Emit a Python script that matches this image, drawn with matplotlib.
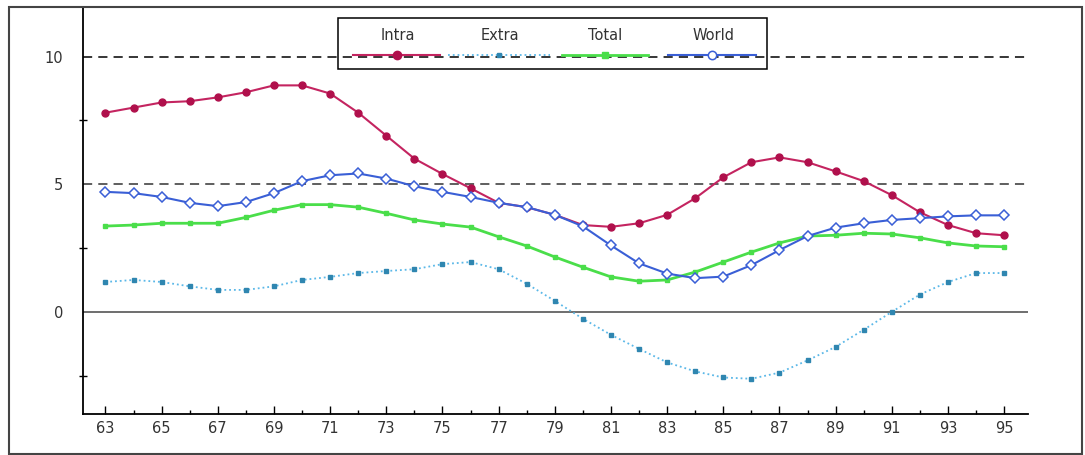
import matplotlib.pyplot as plt
from matplotlib.patches import Rectangle
from matplotlib.ticker import MultipleLocator

years = list(range(63, 96))

intra = [7.8, 8.0, 8.2, 8.25, 8.4, 8.6, 8.87, 8.87, 8.55, 7.8,
         6.9, 6.0, 5.4, 4.84, 4.27, 4.1, 3.8, 3.4, 3.33, 3.47,
         3.8, 4.45, 5.27, 5.86, 6.05, 5.86, 5.5, 5.12, 4.57, 3.9,
         3.4, 3.08, 3.0]
extra = [1.17, 1.25, 1.17, 1.0, 0.86, 0.86, 1.0, 1.25, 1.37, 1.52,
         1.6, 1.67, 1.87, 1.95, 1.67, 1.1, 0.43, -0.27, -0.9, -1.45,
         -1.98, -2.33, -2.57, -2.62, -2.38, -1.9, -1.37, -0.7, 0.0, 0.68,
         1.17, 1.52, 1.52]
total = [3.36, 3.4, 3.47, 3.47, 3.47, 3.7, 3.98, 4.2, 4.2, 4.1,
         3.86, 3.6, 3.44, 3.32, 2.94, 2.58, 2.15, 1.75, 1.37, 1.2,
         1.25, 1.56, 1.95, 2.34, 2.7, 2.97, 3.0, 3.08, 3.05, 2.9,
         2.7, 2.58, 2.55]
world = [4.7, 4.65, 4.5, 4.27, 4.14, 4.3, 4.65, 5.12, 5.35, 5.42,
         5.22, 4.92, 4.7, 4.5, 4.27, 4.1, 3.8, 3.35, 2.6, 1.9,
         1.5, 1.32, 1.38, 1.83, 2.42, 2.97, 3.3, 3.47, 3.6, 3.67,
         3.74, 3.78, 3.78]

labels = ['Intra', 'Extra', 'Total', 'World']

c_intra = '#c42460'
c_extra = '#5bb8e8'
c_total = '#4ade4a'
c_world = '#3a5fd6'

fig = plt.figure(figsize=(10.85, 4.55), dpi=100)
ax = fig.add_axes([0.0765, 0.0901, 0.871, 0.8923])

# reference lines
ax.axhline(10, color='black', lw=1.1, dashes=(6, 4))
ax.axhline(5, color='#333333', lw=1.1, dashes=(6, 4))
ax.axhline(0, color='#555555', lw=1.2)

ax.plot(years, intra, color=c_intra, lw=1.5, marker='o', ms=5,
        mfc='#b0104c', mec='#b0104c', zorder=3)
ax.plot(years, extra, color=c_extra, lw=1.3, ls=':', marker='s', ms=3.5,
        mfc='#2f86b0', mec='#2f86b0', zorder=3)
ax.plot(years, total, color=c_total, lw=2, marker='s', ms=3,
        mfc=c_total, mec=c_total, zorder=3)
ax.plot(years, world, color=c_world, lw=1.5, marker='D', ms=5,
        mfc='white', mec=c_world, mew=1.1, zorder=4)

ax.set_xlim(62.2, 95.85)
ax.set_ylim(-4, 11.9)

ax.set_xticks(years[::2])
ax.set_xticklabels([str(y) for y in years[::2]])
ax.xaxis.set_minor_locator(MultipleLocator(1))
ax.tick_params(axis='x', which='major', direction='in', length=6, width=1,
               labelsize=10.5, labelcolor='#333333', pad=5)
ax.tick_params(axis='x', which='minor', direction='in', length=3, width=1)

ax.set_yticks([0, 5, 10])
ax.yaxis.set_minor_locator(MultipleLocator(2.5))
ax.tick_params(axis='y', which='major', length=0, labelsize=10.5,
               labelcolor='#333333', pad=14)
ax.tick_params(axis='y', which='minor', direction='inout', length=6, width=1)

for s in ['top', 'right']:
    ax.spines[s].set_visible(False)
for s in ['left', 'bottom']:
    ax.spines[s].set_linewidth(1.3)

# legend, text above the line samples
ax.add_patch(Rectangle((0.2698, 0.8498), 0.454, 0.1256, transform=ax.transAxes,
                       fill=False, ec='black', lw=1.1, zorder=5))
text_x = [0.3333, 0.4413, 0.5524, 0.6667]
seg = [(0.2857, 0.3778), (0.3862, 0.4942), (0.5069, 0.5979), (0.619, 0.7122)]
styles = [dict(color=c_intra, lw=1.5, marker='o', ms=6, mfc='#b0104c', mec='#b0104c'),
          dict(color=c_extra, lw=1.3, ls=':', marker='s', ms=3.5, mfc='#2f86b0', mec='#2f86b0'),
          dict(color=c_total, lw=2, marker='s', ms=4, mfc=c_total, mec=c_total),
          dict(color=c_world, lw=1.5, marker='o', ms=6, mfc='white', mec=c_world, mew=1.1)]
for lab, tx, (x0, x1), st in zip(labels, text_x, seg, styles):
    ax.text(tx, 0.9335, lab, transform=ax.transAxes, ha='center', va='center',
            fontsize=10.5, color='#333333', zorder=6)
    ax.plot([x0, x1], [0.884, 0.884], transform=ax.transAxes, markevery=[],
            zorder=6, **st)
    ax.plot([(x0 + x1) / 2], [0.884], transform=ax.transAxes, ls='none',
            zorder=7, **{k: v for k, v in st.items() if k not in ('lw', 'ls')})

# outer frame
fig.patches.append(Rectangle((0.0083, 0.0022), 0.9889, 0.9824, transform=fig.transFigure,
                             fill=False, ec='#444444', lw=1.5))

fig.savefig('out.png', dpi=100)
